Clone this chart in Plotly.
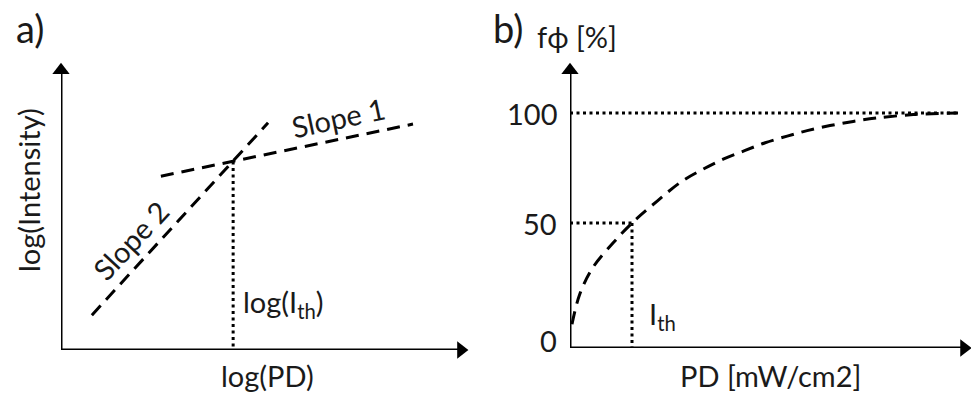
import plotly.graph_objects as go

# ---- Panel a data (arbitrary log units) ----
slope1_x = [2.46, 8.67]
slope1_y = [4.24, 5.51]
slope2_x = [0.76, 5.10]
slope2_y = [0.85, 5.54]
threshold_log_pd = 4.24
threshold_log_i = 4.60

# ---- Panel b data ----
pd_values = [0.05, 0.25, 0.58, 1.08, 1.55, 2.18, 2.8, 3.33, 3.83, 4.38, 4.88, 5.43, 5.93, 6.5, 7.08, 7.65, 8.58, 9.7]
fphi_values = [4, 18, 30, 41, 50, 60, 69, 74.5, 79, 83, 86.5, 89.5, 92, 94.3, 96.2, 97.7, 99.3, 100]
ith_pd = 1.55
half_level = 50
full_level = 100
full_level_end = 9.7
y_tick_labels = ["0", "50", "100"]

# axis extents (data units)
a_x_max, a_y_max = 10, 7
b_x_max, b_y_min, b_y_max = 10, -6.8, 123.2

W, H = 971, 394
FONT = "Lato, 'Open Sans', sans-serif"
TXT = "#1a1a1a"
DASH = "13px,8px"
DOT = "3px,3.5px"
FS = 29

fig = go.Figure()

def line(x, y, xa, ya, dash=None, width=3, shape="linear"):
    fig.add_trace(go.Scatter(x=x, y=y, mode="lines", line_shape=shape,
                             line=dict(color="black", width=width, dash=dash),
                             xaxis=xa, yaxis=ya, hoverinfo="skip"))

def head(x, y, xa, ya, symbol):
    fig.add_trace(go.Scatter(x=[x], y=[y], mode="markers", cliponaxis=False,
                             marker=dict(symbol=symbol, size=15, color="black", line=dict(width=0)),
                             xaxis=xa, yaxis=ya, hoverinfo="skip"))

# Panel a axes
line([0, a_x_max * 0.985], [0, 0], "x", "y")
line([0, 0], [0, a_y_max * 0.975], "x", "y")
head(a_x_max * 0.985, 0, "x", "y", "triangle-right")
head(0, a_y_max * 0.975, "x", "y", "triangle-up")

# Panel a data
line(slope1_x, slope1_y, "x", "y", DASH)
line(slope2_x, slope2_y, "x", "y", DASH)
line([threshold_log_pd, threshold_log_pd], [threshold_log_i, 0], "x", "y", DOT)

# Panel b axes
line([0, b_x_max * 0.985], [b_y_min, b_y_min], "x2", "y2")
line([0, 0], [b_y_min, b_y_max * 0.97], "x2", "y2")
head(b_x_max * 0.985, b_y_min, "x2", "y2", "triangle-right")
head(0, b_y_max * 0.97, "x2", "y2", "triangle-up")

# Panel b data
line([0, full_level_end], [full_level, full_level], "x2", "y2", DOT)
line([0, ith_pd], [half_level, half_level], "x2", "y2", DOT)
line([ith_pd, ith_pd], [half_level, b_y_min], "x2", "y2", DOT)
line(pd_values, fphi_values, "x2", "y2", DASH, shape="spline")

ax_common = dict(visible=False, showgrid=False, zeroline=False, fixedrange=True)
fig.update_layout(
    width=W, height=H,
    margin=dict(l=0, r=0, t=0, b=0),
    paper_bgcolor="white", plot_bgcolor="rgba(0,0,0,0)",
    showlegend=False,
    font=dict(family=FONT, color=TXT, size=FS),
    xaxis=dict(domain=[61 / W, 467 / W], range=[0, a_x_max], **ax_common),
    yaxis=dict(domain=[(H - 350) / H, (H - 63) / H], range=[0, a_y_max], **ax_common),
    xaxis2=dict(domain=[570 / W, 970 / W], range=[0, b_x_max], **ax_common),
    yaxis2=dict(domain=[(H - 348) / H, (H - 62) / H], range=[b_y_min, b_y_max], **ax_common),
)

anns = []
def txt(text, px, py, size=FS, angle=0, xanchor="center", yanchor="middle"):
    # label placed by page position (pixels from top-left)
    return dict(text=text, xref="paper", yref="paper", x=px / W, y=1 - py / H, showarrow=False,
                textangle=angle, xanchor=xanchor, yanchor=yanchor,
                font=dict(size=size, family=FONT, color=TXT))

anns.append(txt("a)", 30, 28, size=38))
anns.append(txt("b)", 508, 28, size=38))
anns.append(txt("Slope 1", 338, 117, angle=-12))
anns.append(txt("Slope 2", 130, 240, angle=-47))
anns.append(txt("log(I<sub>th</sub>)", 241, 303, xanchor="left"))
anns.append(txt("log(PD)", 267, 375))
anns.append(txt("log(Intensity)", 28, 190, angle=-90))

anns.append(txt("I<sub>th</sub>", 647, 315, xanchor="left"))
anns.append(txt("PD [mW/cm2]", 770, 375))
anns.append(txt("fϕ [%]", 577, 36))
for py, lab in zip([340, 223, 113], y_tick_labels):
    anns.append(txt(lab, 559, py, xanchor="right"))

fig.update_layout(annotations=anns)
fig.write_html("out.html")
